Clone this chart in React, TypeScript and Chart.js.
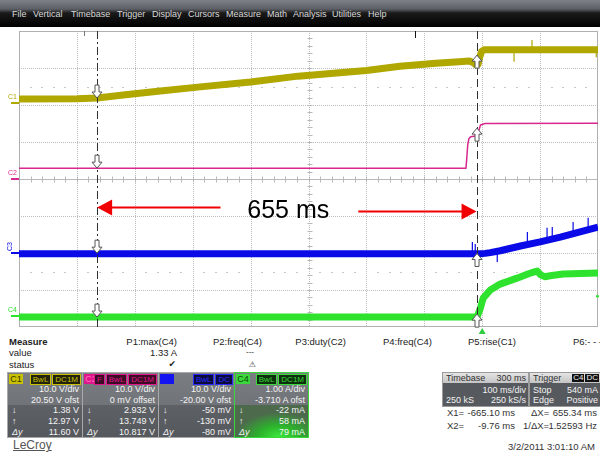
import React, { useEffect, useRef } from "react";
import { Chart, registerables } from "chart.js";
Chart.register(...registerables);

const FONT = '"Liberation Sans", Arial, Helvetica, sans-serif';

// ---- time base (ms) ----
const TIME_MIN = -800;
const TIME_MAX = 200;
const TIME_PER_DIV = 100;
const X_DIVS = 10;
const Y_DIVS = 8;

// ---- channel settings ----
const CH_NAMES = ["C1", "C2", "C3", "C4"];
const CH_PER_DIV = [10, 10, 10, 1];
const CH_OFFSET = [20.5, 0, -20, -3.71];
const CH_COLORS = ["#b0a800", "#d8288e", "#0a0ae8", "#2ee22e"];
const CH_WIDTHS = [7, 1.5, 7, 7];

// ---- traces (time ms, value V or A) ----
const C1_T = [-800, -700, -665, -620, -560, -487, -400, -318, -200, -142, -80, -40, -22, -15, -11, -7, -4, -1, 3, 60, 200];
const C1_V = [1.1, 1.2, 1.38, 2.2, 3.2, 4.4, 5.7, 7.3, 8.8, 9.95, 10.8, 11.2, 11.4, 10.9, 10.4, 10.5, 12.6, 14.0, 14.4, 14.4, 14.4];
const C1_SPIKE_T = [55, 86, 197];
const C1_SPIKE_FROM = [14.3, 14.4, 14.4];
const C1_SPIKE_TO = [11.2, 17.1, 12.4];

const C2_T = [-800, -28, -26.5, -25, -23, -20, -12, -6, -3, 5, 200];
const C2_V = [2.93, 2.93, 6.0, 9.2, 10.9, 11.4, 11.6, 13.0, 14.6, 15.0, 15.1];

const C3_T = [-800, -5, 5, 14, 31, 66, 100, 135, 169, 200];
const C3_V = [-0.2, -0.2, -0.1, 0.1, 0.6, 1.9, 3.0, 4.3, 5.7, 7.0];
const C3_SPIKE_T = [-17, -12, 26, 78, 112, 121, 157, 183];
const C3_SPIKE_FROM = [-0.2, -0.2, 0.5, 2.2, 3.5, 3.8, 5.1, 6.3];
const C3_SPIKE_TO = [3.0, 2.4, -2.4, 5.7, 6.8, 7.0, 8.4, 9.5];

const C4_T = [-800, -9, -3.5, 1.7, 14, 31, 60, 80, 90, 95, 101, 108, 120, 140, 200];
const C4_V = [-0.02, -0.02, 0.2, 0.49, 0.71, 0.87, 1.03, 1.15, 1.2, 1.22, 1.12, 1.07, 1.1, 1.14, 1.17];

// ---- cursors / trigger ----
const CURSOR_X1 = -665.1;
const CURSOR_X2 = -9.76;
const CURSOR_Y1 = [1.38, 2.932, -0.05, -0.022];
const CURSOR_Y2 = [12.97, 13.749, -0.13, 0.058];
const TRIGGER_TIME = 0;
const TRIGGER_LEVEL = 0.54;
const TOP_MARKS = [-688, -116];

// ---- annotation ----
const NOTE_TEXT = "655 ms";
const NOTE_TIME = -335;
const NOTE_LEVEL = 3.15; // in divisions from bottom
const ARROW_L_FROM = -452;
const ARROW_R_FROM = -214;

const TRACE_T = [C1_T, C2_T, C3_T, C4_T];
const TRACE_V = [C1_V, C2_V, C3_V, C4_V];
const SPIKES = [
  { ch: 0, t: C1_SPIKE_T, a: C1_SPIKE_FROM, b: C1_SPIKE_TO },
  { ch: 2, t: C3_SPIKE_T, a: C3_SPIKE_FROM, b: C3_SPIKE_TO },
];

function blockArrow(ctx: CanvasRenderingContext2D, x: number, y: number, dir: number) {
  const hw = 5, sw = 2, hl = 6, len = 13;
  ctx.beginPath();
  ctx.moveTo(x, y);
  ctx.lineTo(x - hw, y - dir * hl);
  ctx.lineTo(x - sw, y - dir * hl);
  ctx.lineTo(x - sw, y - dir * len);
  ctx.lineTo(x + sw, y - dir * len);
  ctx.lineTo(x + sw, y - dir * hl);
  ctx.lineTo(x + hw, y - dir * hl);
  ctx.closePath();
  ctx.fillStyle = "#ffffff";
  ctx.fill();
  ctx.strokeStyle = "#555";
  ctx.lineWidth = 1;
  ctx.stroke();
}

const scopePlugin = {
  id: "scope",
  beforeDatasetsDraw(chart: any) {
    const { ctx, chartArea } = chart;
    const { left, right, top, bottom } = chartArea;
    const xs = chart.scales.x;
    const gs = chart.scales.grid;
    ctx.save();
    ctx.fillStyle = "#ffffff";
    ctx.fillRect(left, top, right - left, bottom - top);
    ctx.strokeStyle = "#bdbdbd";
    ctx.lineWidth = 1;
    ctx.setLineDash([1, 1]);
    for (let i = 1; i < X_DIVS; i++) {
      const px = Math.round(xs.getPixelForValue(TIME_MIN + i * TIME_PER_DIV)) + 0.5;
      ctx.beginPath(); ctx.moveTo(px, top); ctx.lineTo(px, bottom); ctx.stroke();
    }
    for (let j = 1; j < Y_DIVS; j++) {
      if (j === Y_DIVS / 2) continue;
      const py = Math.round(gs.getPixelForValue(j)) + 0.5;
      ctx.beginPath(); ctx.moveTo(left, py); ctx.lineTo(right, py); ctx.stroke();
    }
    ctx.setLineDash([]);
    // centre axis with minor ticks
    const cy = Math.round(gs.getPixelForValue(Y_DIVS / 2)) + 0.5;
    const cx = Math.round(xs.getPixelForValue(TIME_MIN + (X_DIVS / 2) * TIME_PER_DIV)) + 0.5;
    ctx.strokeStyle = "#b8b8b8";
    ctx.beginPath(); ctx.moveTo(left, cy); ctx.lineTo(right, cy); ctx.stroke();
    for (let k = 1; k < X_DIVS * 5; k++) {
      const px = Math.round(xs.getPixelForValue(TIME_MIN + (k * TIME_PER_DIV) / 5)) + 0.5;
      ctx.beginPath(); ctx.moveTo(px, cy - 3); ctx.lineTo(px, cy + 3); ctx.stroke();
    }
    for (let k = 1; k < Y_DIVS * 5; k++) {
      const py = Math.round(gs.getPixelForValue(k / 5)) + 0.5;
      ctx.beginPath(); ctx.moveTo(cx - 2, py); ctx.lineTo(cx + 3, py); ctx.stroke();
    }
    // faint sub rows
    ctx.strokeStyle = "#c8c8c8";
    [1.5, 6.5].forEach((lv) => {
      const py = Math.round(gs.getPixelForValue(lv)) + 0.5;
      for (let k = 1; k < X_DIVS * 5; k++) {
        if (k % 5 === 0) continue;
        const px = Math.round(xs.getPixelForValue(TIME_MIN + (k * TIME_PER_DIV) / 5));
        ctx.beginPath(); ctx.moveTo(px - 1, py); ctx.lineTo(px + 1, py); ctx.stroke();
      }
    });
    ctx.strokeStyle = "#b0b0b0";
    ctx.strokeRect(left + 0.5, top + 0.5, right - left - 1, bottom - top - 1);
    // top markers
    TOP_MARKS.forEach((t, i) => {
      const px = Math.round(xs.getPixelForValue(t)) + 0.5;
      ctx.strokeStyle = i === 1 ? "#111" : "#777";
      ctx.beginPath(); ctx.moveTo(px, top); ctx.lineTo(px, top + (i === 1 ? 7 : 5)); ctx.stroke();
    });
    ctx.restore();
  },
  afterDatasetsDraw(chart: any) {
    const { ctx, chartArea } = chart;
    const { left, right, top, bottom } = chartArea;
    const xs = chart.scales.x;
    const gs = chart.scales.grid;
    ctx.save();
    // cursors
    const x1 = Math.round(xs.getPixelForValue(CURSOR_X1)) + 0.5;
    const x2 = Math.round(xs.getPixelForValue(CURSOR_X2)) + 0.5;
    ctx.strokeStyle = "#303030";
    ctx.lineWidth = 1;
    ctx.setLineDash([8, 3, 2, 3]);
    ctx.beginPath(); ctx.moveTo(x1, top); ctx.lineTo(x1, bottom); ctx.stroke();
    ctx.setLineDash([8, 4]);
    ctx.beginPath(); ctx.moveTo(x2, top); ctx.lineTo(x2, bottom); ctx.stroke();
    ctx.setLineDash([]);
    // cursor arrows
    for (let i = 0; i < 4; i++) {
      const s = chart.scales["c" + (i + 1)];
      blockArrow(ctx, x1 - 0.5, s.getPixelForValue(CURSOR_Y1[i]), 1);
      blockArrow(ctx, x2 - 0.5, s.getPixelForValue(CURSOR_Y2[i]), -1);
    }
    // channel ground labels
    for (let i = 0; i < 4; i++) {
      const s = chart.scales["c" + (i + 1)];
      const zy = Math.round(s.getPixelForValue(0));
      ctx.fillStyle = CH_COLORS[i];
      ctx.fillRect(left - 8, zy - 1, 8, 2);
      ctx.font = "7px " + FONT;
      if (i === 2) {
        ctx.save();
        ctx.translate(14, zy - 2);
        ctx.rotate(-Math.PI / 2);
        ctx.textAlign = "left";
        ctx.textBaseline = "bottom";
        ctx.fillText(CH_NAMES[i], 0, 0);
        ctx.restore();
      } else {
        ctx.textAlign = "left";
        ctx.textBaseline = "bottom";
        ctx.fillText(CH_NAMES[i], 8, zy - 2);
      }
    }
    // trigger markers
    const tx = xs.getPixelForValue(TRIGGER_TIME);
    ctx.fillStyle = "#2ecc40";
    ctx.beginPath();
    ctx.moveTo(tx, bottom + 1); ctx.lineTo(tx - 3.5, bottom + 7); ctx.lineTo(tx + 3.5, bottom + 7); ctx.closePath(); ctx.fill();
    const ty = chart.scales.c4.getPixelForValue(TRIGGER_LEVEL);
    ctx.fillStyle = CH_COLORS[3];
    ctx.fillRect(right - 2, ty - 1, 3, 2);
    // annotation
    const ny = gs.getPixelForValue(NOTE_LEVEL);
    ctx.fillStyle = "#000";
    ctx.font = "25px " + FONT;
    ctx.textAlign = "center";
    ctx.textBaseline = "middle";
    ctx.fillText(NOTE_TEXT, xs.getPixelForValue(NOTE_TIME), ny + 1);
    const drawRed = (fromT: number, toT: number, y: number) => {
      const a = xs.getPixelForValue(fromT);
      const b = xs.getPixelForValue(toT);
      const d = Math.sign(b - a);
      ctx.strokeStyle = "#f00000";
      ctx.lineWidth = 2;
      ctx.beginPath(); ctx.moveTo(a, y); ctx.lineTo(b - d * 13, y); ctx.stroke();
      ctx.fillStyle = "#f00000";
      ctx.beginPath(); ctx.moveTo(b, y); ctx.lineTo(b - d * 15, y - 8); ctx.lineTo(b - d * 15, y + 8); ctx.closePath(); ctx.fill();
    };
    drawRed(ARROW_L_FROM, CURSOR_X1, ny - 3);
    drawRed(ARROW_R_FROM, CURSOR_X2, ny + 1);
    ctx.restore();
  },
};

function ScopeChart() {
  const ref = useRef<HTMLCanvasElement>(null);
  useEffect(() => {
    if (!ref.current) return;
    const datasets: any[] = [];
    for (let i = 0; i < 4; i++) {
      datasets.push({
        data: TRACE_T[i].map((t, k) => ({ x: t, y: TRACE_V[i][k] })),
        borderColor: CH_COLORS[i],
        borderWidth: CH_WIDTHS[i],
        borderJoinStyle: "round",
        pointRadius: 0,
        tension: 0,
        yAxisID: "c" + (i + 1),
      });
    }
    SPIKES.forEach((sp) => {
      const d: any[] = [];
      sp.t.forEach((t, k) => {
        d.push({ x: t, y: sp.a[k] }, { x: t, y: sp.b[k] }, { x: t, y: null });
      });
      datasets.push({
        data: d,
        borderColor: CH_COLORS[sp.ch],
        borderWidth: 1.2,
        pointRadius: 0,
        spanGaps: false,
        yAxisID: "c" + (sp.ch + 1),
      });
    });
    const scales: any = {
      x: { type: "linear", min: TIME_MIN, max: TIME_MAX, display: false },
      grid: { type: "linear", axis: "y", position: "left", min: 0, max: Y_DIVS, display: false },
    };
    for (let i = 0; i < 4; i++) {
      const c = -CH_OFFSET[i];
      scales["c" + (i + 1)] = {
        type: "linear",
        axis: "y",
        position: "left",
        min: c - (Y_DIVS / 2) * CH_PER_DIV[i],
        max: c + (Y_DIVS / 2) * CH_PER_DIV[i],
        display: false,
      };
    }
    const chart = new Chart(ref.current, {
      type: "line",
      data: { datasets },
      options: {
        animation: false,
        responsive: false,
        maintainAspectRatio: false,
        devicePixelRatio: 1,
        events: [],
        layout: { padding: { left: 19, right: 2, top: 5, bottom: 9 } },
        scales,
        plugins: { legend: { display: false }, tooltip: { enabled: false } },
      } as any,
      plugins: [scopePlugin],
    });
    return () => chart.destroy();
  }, []);
  return (
    <canvas
      ref={ref}
      width={600}
      height={310}
      style={{ position: "absolute", left: 0, top: 26, width: 600, height: 310 }}
    />
  );
}

type TxtProps = { x: number; y: number; s?: number; c?: string; right?: boolean; bold?: boolean; ff?: string; children: any; style?: any };
function Txt({ x, y, s = 9.5, c = "#222", right, bold, ff, children, style }: TxtProps) {
  const st: any = {
    position: "absolute",
    top: y - s * 0.55,
    fontSize: s,
    lineHeight: "1.1",
    color: c,
    whiteSpace: "nowrap",
    fontWeight: bold ? "bold" : "normal",
    fontFamily: ff || FONT,
  };
  if (right) st.right = 600 - x;
  else st.left = x;
  Object.assign(st, style || {});
  return <div style={st}>{children}</div>;
}

const MENU = ["File", "Vertical", "Timebase", "Trigger", "Display", "Cursors", "Measure", "Math", "Analysis", "Utilities", "Help"];
const MENU_X = [12, 33, 71, 117, 152, 188, 226, 267, 293, 332, 368];

const BOXES = [
  { x: 8, w: 74, tag: "C1", tagBg: "#c8c000", tagFg: "#3a3800", tags: ["BwL", "DC1M"], tBg: "#23230c", tFg: "#c8c000", l1: "10.0 V/div", l2: "20.50 V ofst", v: ["1.38 V", "12.97 V", "11.60 V"] },
  { x: 83, w: 75, tag: "C2", tagBg: "#e0168c", tagFg: "#ff70b8", tags: ["F", "BwL", "DC1M"], tBg: "#3c0c26", tFg: "#e0168c", l1: "10.0 V/div", l2: "0 mV offset", v: ["2.932 V", "13.749 V", "10.817 V"] },
  { x: 159, w: 75, tag: "C3", tagBg: "#1414f0", tagFg: "#1414f0", tags: ["BwL", "DC"], tBg: "#0c0c3c", tFg: "#2a2aff", l1: "10.0 V/div", l2: "-20.00 V ofst", v: ["-50 mV", "-130 mV", "-80 mV"] },
  { x: 235, w: 73, tag: "C4", tagBg: "#3ad83a", tagFg: "#0c4a0c", tags: ["BwL", "DC1M"], tBg: "#0c300c", tFg: "#3ad83a", l1: "1.00 A/div", l2: "-3.710 A ofst", v: ["-22 mA", "58 mA", "79 mA"] },
];
const SYMS = ["\u2193", "\u2191", "\u0394y"];

function ChannelBox({ b, green }: { b: any; green: boolean }) {
  return (
    <div style={{ position: "absolute", left: b.x, top: 373, width: b.w, height: 64, background: "linear-gradient(#7a7d82, #66696e)", boxShadow: green ? "0 0 0 1px #3ad83a" : "0 0 0 1px #a8a8a8", fontFamily: FONT, color: "#f4f4f4", overflow: "hidden" }}>
      <div style={{ position: "absolute", left: 1, top: 1, width: 14, height: 10, background: b.tagBg, color: b.tagFg, fontSize: 9, lineHeight: "10px", textAlign: "center" }}>{b.tag}</div>
      <div style={{ position: "absolute", right: 1, top: 1, display: "flex", gap: 1 }}>
        {b.tags.map((t: string, i: number) => (
          <div key={i} style={{ background: b.tBg, color: b.tFg, fontSize: 8, lineHeight: "9px", height: 9, padding: "0 2px", border: "0.5px solid " + b.tFg }}>{t}</div>
        ))}
      </div>
      <div style={{ position: "absolute", right: 3, top: 11, fontSize: 9, lineHeight: "11px", textAlign: "right" }}>{b.l1}<br />{b.l2}</div>
      <div style={{ position: "absolute", left: 0, top: 32, width: "100%", height: 32, background: green ? "radial-gradient(ellipse 70% 90% at 60% 100%, #3be83b 0%, #2cb22c 40%, #4d6a4d 85%)" : "linear-gradient(#5d6065, #55585d)" }}>
        {b.v.map((v: string, i: number) => (
          <React.Fragment key={i}>
            <div style={{ position: "absolute", left: 4, top: i * 11, fontSize: 9, lineHeight: "11px", fontStyle: i === 2 ? "italic" : "normal" }}>{SYMS[i]}</div>
            <div style={{ position: "absolute", right: 3, top: i * 11, fontSize: 9, lineHeight: "11px" }}>{v}</div>
          </React.Fragment>
        ))}
      </div>
    </div>
  );
}

const boxText = (pos: any, text: string, color = "#f2f2f2") => (
  <div style={{ position: "absolute", fontSize: 9, color, lineHeight: "10px", whiteSpace: "nowrap", ...pos }}>{text}</div>
);

export default function App() {
  return (
    <div style={{ position: "fixed", left: 0, top: 0, width: 600, height: 454, background: "#fff", overflow: "hidden", fontFamily: FONT }}>
      <div style={{ position: "absolute", left: 0, top: 0, width: 600, height: 27, background: "linear-gradient(#7e8188 0px, #5c5f66 9px, #1a1a1a 13px, #000 27px)" }} />
      {MENU.map((m, i) => (
        <Txt key={m} x={MENU_X[i]} y={15} s={9} c="#d8d8d8">{m}</Txt>
      ))}
      <ScopeChart />
      {/* measure table */}
      <Txt x={9} y={342} bold>Measure</Txt>
      <Txt x={9} y={353}>value</Txt>
      <Txt x={9} y={365}>status</Txt>
      <Txt x={177} y={342} right>P1:max(C4)</Txt>
      <Txt x={177} y={353} right>1.33 A</Txt>
      <Txt x={176} y={365} right s={9} ff='"DejaVu Sans", sans-serif'>{"\u2714"}</Txt>
      <Txt x={262} y={342} right>P2:freq(C4)</Txt>
      <Txt x={254} y={352} right s={8}>---</Txt>
      <Txt x={256} y={365} right s={8} c="#333" ff='"DejaVu Sans", sans-serif'>{"\u26A0"}</Txt>
      <Txt x={346} y={342} right>P3:duty(C2)</Txt>
      <Txt x={432} y={342} right>P4:freq(C4)</Txt>
      <Txt x={516} y={342} right>P5:rise(C1)</Txt>
      <Txt x={573} y={342}>P6:- - -</Txt>
      {BOXES.map((b, i) => (
        <ChannelBox key={i} b={b} green={i === 3} />
      ))}
      {/* timebase */}
      <div style={{ position: "absolute", left: 443, top: 373, width: 85, height: 33, background: "#56595e", boxShadow: "0 0 0 1px #9a9a9a", fontFamily: FONT }}>
        <div style={{ position: "absolute", left: 0, top: 0, width: 85, height: 10, background: "linear-gradient(#e4e4e4, #c4c4c4)" }} />
        {boxText({ left: 3, top: 0 }, "Timebase", "#333")}
        {boxText({ right: 2, top: 0 }, "300 ms", "#333")}
        {boxText({ right: 2, top: 12 }, "100 ms/div")}
        {boxText({ left: 3, top: 22 }, "250 kS")}
        {boxText({ right: 2, top: 22 }, "250 kS/s")}
      </div>
      <div style={{ position: "absolute", left: 530, top: 373, width: 70, height: 33, background: "#56595e", boxShadow: "0 0 0 1px #9a9a9a", fontFamily: FONT }}>
        <div style={{ position: "absolute", left: 0, top: 0, width: 70, height: 10, background: "linear-gradient(#e4e4e4, #c4c4c4)" }} />
        {boxText({ left: 3, top: 0 }, "Trigger", "#333")}
        <div style={{ position: "absolute", right: 1, top: 1, display: "flex", gap: 1 }}>
          <div style={{ background: "#111", color: "#eee", fontSize: 8, lineHeight: "8px", height: 8, padding: "0 1px" }}>C4</div>
          <div style={{ background: "#111", color: "#eee", fontSize: 8, lineHeight: "8px", height: 8, padding: "0 1px" }}>DC</div>
        </div>
        {boxText({ left: 3, top: 12 }, "Stop")}
        {boxText({ right: 2, top: 12 }, "540 mA")}
        {boxText({ left: 3, top: 22 }, "Edge")}
        {boxText({ right: 2, top: 22 }, "Positive")}
      </div>
      {/* cursor readouts */}
      <Txt x={447} y={413} c="#333">X1=</Txt>
      <Txt x={515} y={413} right c="#333">-665.10 ms</Txt>
      <Txt x={531} y={413} c="#333">{"\u0394X="}</Txt>
      <Txt x={597} y={413} right c="#333">655.34 ms</Txt>
      <Txt x={447} y={426} c="#333">X2=</Txt>
      <Txt x={515} y={426} right c="#333">-9.76 ms</Txt>
      <Txt x={523} y={426} c="#333">{"1/\u0394X="}</Txt>
      <Txt x={597} y={426} right c="#333">1.52593 Hz</Txt>
      <Txt x={595} y={447} right c="#333">3/2/2011 3:01:10 AM</Txt>
      <Txt x={13} y={446} s={12} c="#555" style={{ textDecoration: "underline" }}>LeCroy</Txt>
    </div>
  );
}
